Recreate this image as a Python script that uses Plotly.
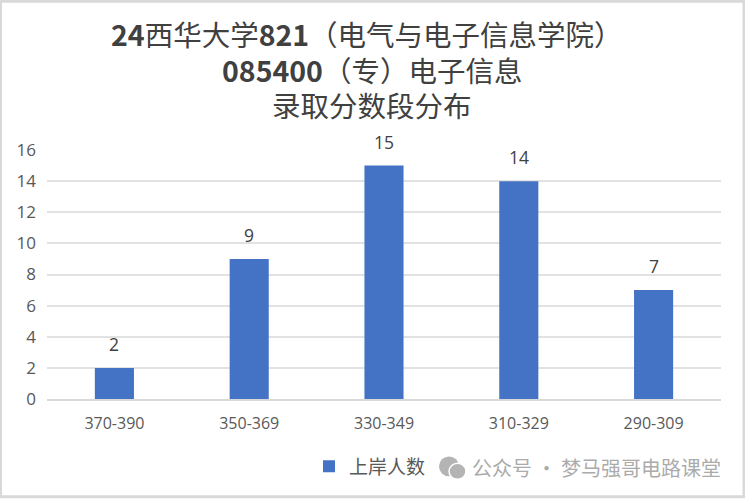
import plotly.graph_objects as go

categories = ["370-390", "350-369", "330-349", "310-329", "290-309"]
values = [2, 9, 15, 14, 7]
series_name = "上岸人数"
title_lines = ["<b>24</b>西华大学<b>821</b>\uff08电气与电子信息学院\uff09",
               "<b>085400</b>\uff08专\uff09电子信息",
               "录取分数段分布"]
watermark = "公众号 · 梦马强哥电路课堂"

W, H = 745, 499
L, R, T, B = 47, 721, 150, 399.5
CJK = "Noto Sans CJK SC"
TXT = "#595959"

def px(x): return (x - L) / (R - L)
def py(y): return (B - y) / (B - T)

fig = go.Figure(go.Bar(
    x=categories, y=values, name=series_name, width=0.29,
    marker=dict(color="#4472C4", line=dict(width=0)),
    showlegend=True, cliponaxis=False,
))

annotations = [
    dict(text=title_lines[0], x=px(367), y=py(33), font=dict(family=CJK, size=28.5, color="#404040")),
    dict(text=title_lines[1], x=px(372), y=py(69), font=dict(family=CJK, size=28.5, color="#404040")),
    dict(text=title_lines[2], x=px(372), y=py(104), font=dict(family=CJK, size=28.5, color="#404040")),
    dict(text=watermark, x=px(723), y=py(468), xanchor="right",
         font=dict(family=CJK, size=20, color="#ABABAB")),
]
for a in annotations:
    a.update(xref="paper", yref="paper", showarrow=False, yanchor="middle")
    a.setdefault("xanchor", "center")
for c, v in zip(categories, values):
    annotations.append(dict(text=str(v), x=c, y=v, xref="x", yref="y", showarrow=False,
                            yanchor="middle", yshift=24,
                            font=dict(family="Open Sans", size=17.5, color="#404040")))

fig.update_layout(
    width=W, height=H, autosize=False,
    paper_bgcolor="white", plot_bgcolor="white",
    margin=dict(l=L, r=W - R, t=T, b=H - B),
    xaxis=dict(type="category", showgrid=False, ticks="", showline=True,
               linecolor="#D9D9D9", linewidth=2, zeroline=False, ticklabelstandoff=9,
               tickfont=dict(family="Open Sans", size=16, color=TXT)),
    yaxis=dict(range=[0, 16], dtick=2, gridcolor="#E2E2E2", gridwidth=1.5, zeroline=False,
               ticks="", showline=False, ticklabelstandoff=10,
               tickfont=dict(family="Open Sans", size=17, color=TXT)),
    legend=dict(orientation="h", x=px(309), y=py(467), xanchor="left", yanchor="middle",
                font=dict(family=CJK, size=19, color=TXT), bgcolor="rgba(0,0,0,0)",
                itemwidth=30),
    font=dict(family=CJK),
    shapes=[
        dict(type="rect", xref="paper", yref="paper", x0=px(0.5), x1=px(744), y0=py(1), y1=py(497.5),
             line=dict(color="#D9D9D9", width=3), fillcolor="rgba(0,0,0,0)", layer="below"),
        dict(type="circle", xref="paper", yref="paper", x0=px(439), x1=px(459),
             y0=py(477), y1=py(457), fillcolor="#B4B4B4", line=dict(width=0)),
        dict(type="circle", xref="paper", yref="paper", x0=px(449), x1=px(466),
             y0=py(480), y1=py(464), fillcolor="#B4B4B4", line=dict(color="white", width=1.5)),
    ],
    annotations=annotations,
)
fig.write_html("out.html", config=dict(displayModeBar=False),
               post_script="document.body.style.margin='0';document.body.style.overflow='hidden';")
